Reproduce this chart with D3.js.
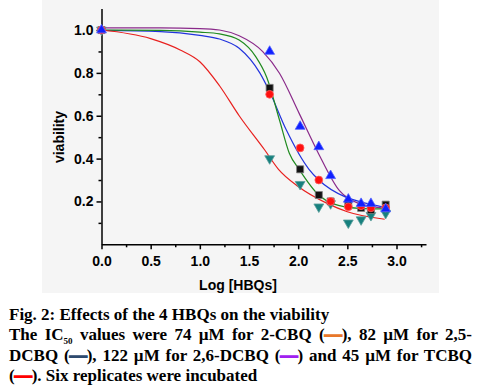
<!DOCTYPE html>
<html lang="en">
<head>
  <meta charset="UTF-8">
  <title>Effects of the 4 HBQs on viability</title>
  <script src="https://d3js.org/d3.v7.min.js"></script>
  <style>
    body { margin: 0; background: #fff; }
  </style>
</head>
<body>
  <svg id="chart" width="482" height="390"></svg>

  <script>
    // log concentration of each measurement
    const logConc = [0, 1.71, 2.02, 2.21, 2.33, 2.51, 2.64, 2.74, 2.89]

    // measured viability, one array per compound
    const cbq2 = [1.0, 0.73, 0.35, 0.23, 0.20, 0.19, 0.17, 0.16, 0.185]
    const dcbq25 = [1.0, 0.70, 0.45, 0.30, 0.20, 0.175, 0.18, 0.17, 0.17]
    const dcbq26 = [1.0, 0.90, 0.55, 0.455, 0.32, 0.21, 0.19, 0.19, 0.165]
    const tcbq = [1.0, 0.40, 0.28, 0.175, 0.19, 0.10, 0.115, 0.135, 0.145]

    // fitted curves, [logConc, viability]
    const fitCbq2 = [[0, 1.0], [0.6, 0.998], [1.0, 0.99], [1.2, 0.982], [1.4, 0.953], [1.57, 0.875], [1.68, 0.78],
      [1.81, 0.58], [1.91, 0.425], [2.01, 0.35], [2.21, 0.23], [2.35, 0.19], [2.62, 0.168], [2.9, 0.165]]
    const fitDcbq25 = [[0, 0.998], [0.6, 0.993], [1.0, 0.975], [1.2, 0.958], [1.4, 0.915], [1.61, 0.80], [1.71, 0.712],
      [1.88, 0.533], [2.11, 0.35], [2.21, 0.30], [2.49, 0.219], [2.62, 0.2], [2.9, 0.17]]
    const fitDcbq26 = [[0, 1.01], [0.6, 1.01], [1.0, 1.007], [1.2, 1.0], [1.4, 0.973], [1.64, 0.899], [1.81, 0.798],
      [2.01, 0.611], [2.2, 0.43], [2.42, 0.25], [2.62, 0.19], [2.89, 0.168]]
    const fitTcbq = [[0, 1.0], [0.5, 0.96], [0.8, 0.907], [1.0, 0.852], [1.2, 0.74], [1.4, 0.60], [1.66, 0.44],
      [1.8, 0.35], [2.0, 0.27], [2.3, 0.19], [2.5, 0.152], [2.88, 0.117]]

    const xTicks = [0, 0.5, 1.0, 1.5, 2.0, 2.5, 3.0]
    const xMinor = [0.25, 0.75, 1.25, 1.75, 2.25, 2.75, 3.25]
    const yTicks = [0.2, 0.4, 0.6, 0.8, 1.0]
    const yMinor = [0.1, 0.3, 0.5, 0.7, 0.9]

    const svg = d3.select("#chart")

    // scanned figure background
    svg.append("rect")
      .attr("x", 42).attr("y", 0)
      .attr("width", 397).attr("height", 293)
      .attr("fill", "#f5f5f5")

    const x = d3.scaleLinear().domain([0, 3.3]).range([101.5, 426])
    const y = d3.scaleLinear().domain([0, 1.1]).range([244.3, 8.6])

    const tickFont = "'Liberation Sans', Arial, sans-serif"

    const xAxis = svg.append("g")
      .attr("transform", "translate(0," + y(0) + ")")
      .call(d3.axisBottom(x).tickValues(xTicks).tickFormat(d3.format(".1f")).tickSize(5).tickSizeOuter(0))
    svg.append("g")
      .attr("transform", "translate(0," + y(0) + ")")
      .call(d3.axisBottom(x).tickValues(xMinor).tickFormat("").tickSize(3).tickSizeOuter(0))
      .select(".domain").remove()

    const yAxis = svg.append("g")
      .attr("transform", "translate(" + x(0) + ",0)")
      .call(d3.axisLeft(y).tickValues(yTicks).tickFormat(d3.format(".1f")).tickSize(5).tickSizeOuter(0))
    svg.append("g")
      .attr("transform", "translate(" + x(0) + ",0)")
      .call(d3.axisLeft(y).tickValues(yMinor).tickFormat("").tickSize(3).tickSizeOuter(0))
      .select(".domain").remove()

    svg.selectAll(".domain, .tick line").attr("stroke", "#000").attr("stroke-width", 1.5)
    xAxis.selectAll("text").attr("dy", "1.0em")
    yAxis.selectAll("text").attr("x", -8)
    svg.selectAll(".tick text")
      .attr("fill", "#000")
      .style("font-family", tickFont)
      .style("font-weight", "bold")
      .style("font-size", "14px")

    svg.append("text")
      .attr("x", 238).attr("y", 290)
      .attr("text-anchor", "middle")
      .style("font-family", tickFont).style("font-weight", "bold").style("font-size", "14px")
      .text("Log [HBQs]")

    svg.append("text")
      .attr("transform", "translate(64,137) rotate(-90)")
      .attr("text-anchor", "middle")
      .style("font-family", tickFont).style("font-weight", "bold").style("font-size", "14px")
      .text("viability")

    // fit curves
    const line = d3.line().x(d => x(d[0])).y(d => y(d[1])).curve(d3.curveMonotoneX)
    const fits = [
      { data: fitDcbq26, color: "#8a2a8a" },
      { data: fitDcbq25, color: "#2233dd" },
      { data: fitCbq2, color: "#1f8a1f" },
      { data: fitTcbq, color: "#e8201e" }
    ]
    fits.forEach(f => {
      svg.append("path")
        .datum(f.data)
        .attr("fill", "none")
        .attr("stroke", f.color)
        .attr("stroke-width", 1.2)
        .attr("d", line)
    })

    // measured points
    const series = [
      { values: tcbq, type: d3.symbolTriangle, size: 42, rotate: 180, fill: "#17807e", stroke: "#5a9e9c" },
      { values: cbq2, type: d3.symbolSquare, size: 50, rotate: 0, fill: "#111", stroke: "#808080" },
      { values: dcbq25, type: d3.symbolCircle, size: 48, rotate: 0, fill: "#ff1010", stroke: "#ff6060" },
      { values: dcbq26, type: d3.symbolTriangle, size: 42, rotate: 0, fill: "#1020ff", stroke: "#5060ff" }
    ]
    series.forEach(s => {
      svg.append("g").selectAll("path")
        .data(s.values)
        .join("path")
        .attr("d", d3.symbol().type(s.type).size(s.size))
        .attr("transform", (d, i) => "translate(" + x(logConc[i]) + "," + y(d) + ") rotate(" + s.rotate + ")")
        .attr("fill", s.fill)
        .attr("stroke", s.stroke)
        .attr("stroke-width", 0.8)
    })

    // caption
    const capFont = "'Liberation Serif', 'Times New Roman', serif"
    const caption = svg.append("g")
      .style("font-family", capFont).style("font-weight", "bold").style("font-size", "17px")
      .attr("fill", "#000")

    caption.append("text").attr("x", 9).attr("y", 319.5)
      .text("Fig. 2: Effects of the 4 HBQs on the viability")

    function dash(t, color) {
      t.append("tspan").text("(")
      t.append("tspan").attr("fill", color).attr("stroke", color).attr("stroke-width", 1.6).text("\u2014")
    }

    const l2 = caption.append("text").attr("x", 9).attr("y", 340)
    l2.append("tspan").text("The IC")
    l2.append("tspan").attr("dy", 4).style("font-size", "9px").text("50")
    l2.append("tspan").attr("dy", -4).text(" values were 74 \u00b5M for 2-CBQ ")
    dash(l2, "#e8772a")
    l2.append("tspan").text("), 82 \u00b5M for 2,5-")

    const l3 = caption.append("text").attr("x", 9).attr("y", 360.5)
    l3.append("tspan").text("DCBQ ")
    dash(l3, "#2e4a6e")
    l3.append("tspan").text("), 122 \u00b5M for 2,6-DCBQ ")
    dash(l3, "#a020f0")
    l3.append("tspan").text(") and 45 \u00b5M for TCBQ")

    const l4 = caption.append("text").attr("x", 9).attr("y", 380.5)
    dash(l4, "#ff0000")
    l4.append("tspan").text("). Six replicates were incubated")

    // justify the two full lines
    const justify = (t, right) => {
      const natural = t.node().getComputedTextLength()
      const gaps = t.text().split(" ").length - 1
      t.style("word-spacing", ((right - 9 - natural) / gaps) + "px")
    }
    justify(l2, 472)
    justify(l3, 472)
  </script>
</body>
</html>
